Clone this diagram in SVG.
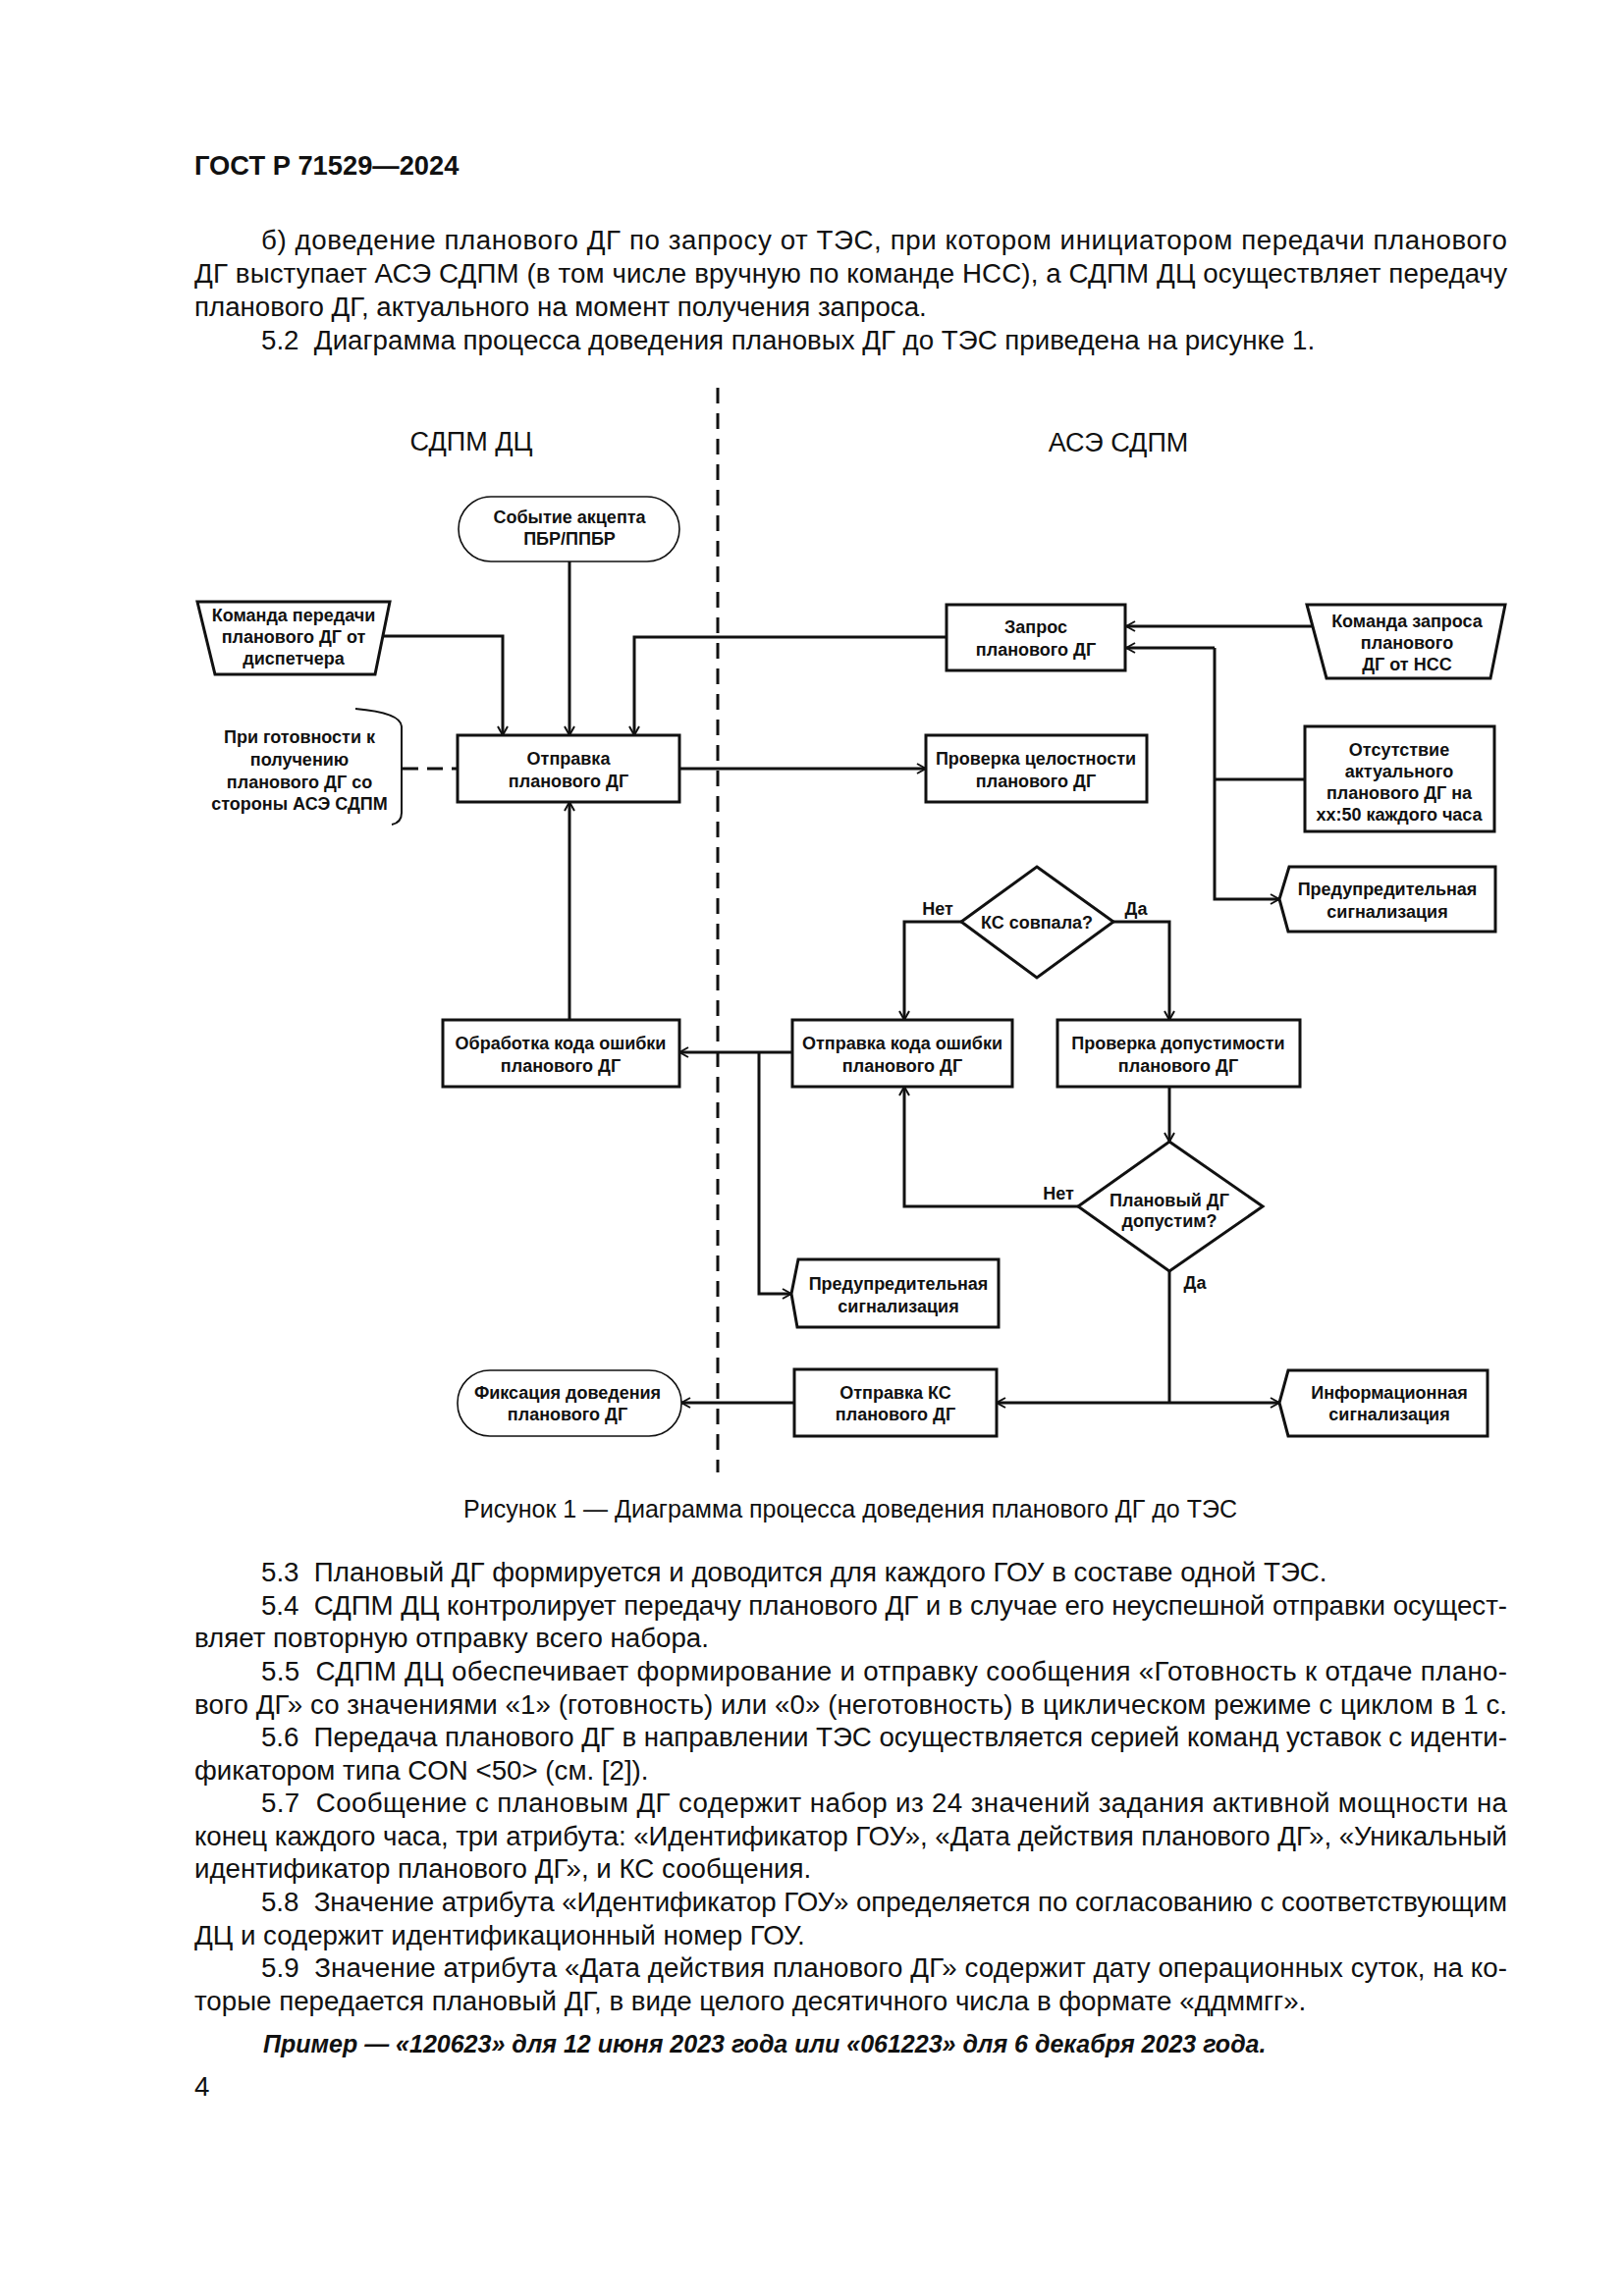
<svg xmlns="http://www.w3.org/2000/svg" width="1654" height="2339" viewBox="0 0 1654 2339">
<style>
.body{font-family:"Liberation Sans",Arial,sans-serif;font-size:27.7px;fill:#111}
.hdr{font-family:"Liberation Sans",Arial,sans-serif;font-size:27.3px;font-weight:bold;fill:#111}
.ex{font-family:"Liberation Sans",Arial,sans-serif;font-size:25px;font-weight:bold;font-style:italic;fill:#111}
.cap{font-family:"Liberation Sans",Arial,sans-serif;font-size:25px;fill:#111}
.ttl{font-family:"Liberation Sans",Arial,sans-serif;font-size:27px;fill:#111}
.lbl{font-family:"Liberation Sans",Arial,sans-serif;font-size:18px;font-weight:bold;fill:#111;text-anchor:middle}
.box{fill:#fff;stroke:#111;stroke-width:3}
.term{fill:#fff;stroke:#111;stroke-width:1.6}
.ln{fill:none;stroke:#111;stroke-width:3}
.dash{fill:none;stroke:#111;stroke-width:3;stroke-dasharray:16 10}
</style>
<defs>
<marker id="arr" viewBox="0 0 12 12" refX="11" refY="6" markerWidth="12" markerHeight="12" markerUnits="userSpaceOnUse" orient="auto">
<path d="M2,1 L11,6 L2,11" fill="none" stroke="#111" stroke-width="2"/>
</marker>
</defs>
<rect width="1654" height="2339" fill="#fff"/>

<g id="page-text">
<text class="hdr" x="198" y="178">ГОСТ Р 71529—2024</text>
<text class="body" x="266" y="254" textLength="1269" lengthAdjust="spacing">б) доведение планового ДГ по запросу от ТЭС, при котором инициатором передачи планового</text>
<text class="body" x="198" y="288" textLength="1337" lengthAdjust="spacing">ДГ выступает АСЭ СДПМ (в том числе вручную по команде НСС), а СДПМ ДЦ осуществляет передачу</text>
<text class="body" x="198" y="322">планового ДГ, актуального на момент получения запроса.</text>
<text class="body" x="266" y="356">5.2&#160; Диаграмма процесса доведения плановых ДГ до ТЭС приведена на рисунке 1.</text>

<text class="cap" x="866" y="1546" text-anchor="middle">Рисунок 1 — Диаграмма процесса доведения планового ДГ до ТЭС</text>

<text class="body" x="266" y="1611">5.3&#160; Плановый ДГ формируется и доводится для каждого ГОУ в составе одной ТЭС.</text>
<text class="body" x="266" y="1645" textLength="1269" lengthAdjust="spacing">5.4&#160; СДПМ ДЦ контролирует передачу планового ДГ и в случае его неуспешной отправки осущест-</text>
<text class="body" x="198" y="1678">вляет повторную отправку всего набора.</text>
<text class="body" x="266" y="1712" textLength="1269" lengthAdjust="spacing">5.5&#160; СДПМ ДЦ обеспечивает формирование и отправку сообщения «Готовность к отдаче плано-</text>
<text class="body" x="198" y="1746" textLength="1337" lengthAdjust="spacing">вого ДГ» со значениями «1» (готовность) или «0» (неготовность) в циклическом режиме с циклом в 1 с.</text>
<text class="body" x="266" y="1779" textLength="1269" lengthAdjust="spacing">5.6&#160; Передача планового ДГ в направлении ТЭС осуществляется серией команд уставок с иденти-</text>
<text class="body" x="198" y="1813">фикатором типа CON &lt;50&gt; (см. [2]).</text>
<text class="body" x="266" y="1846" textLength="1269" lengthAdjust="spacing">5.7&#160; Сообщение с плановым ДГ содержит набор из 24 значений задания активной мощности на</text>
<text class="body" x="198" y="1880" textLength="1337" lengthAdjust="spacing">конец каждого часа, три атрибута: «Идентификатор ГОУ», «Дата действия планового ДГ», «Уникальный</text>
<text class="body" x="198" y="1913">идентификатор планового ДГ», и КС сообщения.</text>
<text class="body" x="266" y="1947" textLength="1269" lengthAdjust="spacing">5.8&#160; Значение атрибута «Идентификатор ГОУ» определяется по согласованию с соответствующим</text>
<text class="body" x="198" y="1981">ДЦ и содержит идентификационный номер ГОУ.</text>
<text class="body" x="266" y="2014" textLength="1269" lengthAdjust="spacing">5.9&#160; Значение атрибута «Дата действия планового ДГ» содержит дату операционных суток, на ко-</text>
<text class="body" x="198" y="2048">торые передается плановый ДГ, в виде целого десятичного числа в формате «ддммгг».</text>
<text class="ex" x="268" y="2091">Пример — «120623» для 12 июня 2023 года или «061223» для 6 декабря 2023 года.</text>
<text class="body" x="198" y="2135">4</text>
</g>

<g id="lanes">
<line class="dash" x1="731" y1="395" x2="731" y2="1500"/>
<text class="ttl" x="480" y="459" text-anchor="middle">СДПМ ДЦ</text>
<text class="ttl" x="1139" y="460" text-anchor="middle">АСЭ СДПМ</text>
</g>

<g id="connectors">
<path class="ln" d="M580,572 V749" marker-end="url(#arr)"/>
<path class="ln" d="M390,648 H512 V749" marker-end="url(#arr)"/>
<path class="ln" d="M964,649 H646 V749" marker-end="url(#arr)"/>
<path class="ln" d="M692,783 H943" marker-end="url(#arr)"/>
<path class="ln" d="M410,783 H466" style="stroke-dasharray:16 9"/>
<path class="ln" d="M1337,638 H1147" marker-end="url(#arr)"/>
<path class="ln" d="M1329,794 H1237"/>
<path class="ln" d="M1237,660 V916 H1303" marker-end="url(#arr)"/>
<path class="ln" d="M1237,660 H1147" marker-end="url(#arr)"/>
<path class="ln" d="M979,939 H921 V1039" marker-end="url(#arr)"/>
<path class="ln" d="M1134,939 H1191 V1039" marker-end="url(#arr)"/>
<path class="ln" d="M807,1072 H692" marker-end="url(#arr)"/>
<path class="ln" d="M773,1072 V1318 H806" marker-end="url(#arr)"/>
<path class="ln" d="M580,1039 V817" marker-end="url(#arr)"/>
<path class="ln" d="M1191,1107 V1163" marker-end="url(#arr)"/>
<path class="ln" d="M1098,1229 H921 V1107" marker-end="url(#arr)"/>
<path class="ln" d="M1191,1295 V1429"/>
<path class="ln" d="M1191,1429 H1015" marker-end="url(#arr)"/>
<path class="ln" d="M1191,1429 H1303" marker-end="url(#arr)"/>
<path class="ln" d="M809,1429 H694" marker-end="url(#arr)"/>
<text class="lbl" x="955" y="932">Нет</text>
<text class="lbl" x="1157" y="932">Да</text>
<text class="lbl" x="1078" y="1222">Нет</text>
<text class="lbl" x="1217" y="1313">Да</text>
</g>

<g id="n-event">
<rect class="term" x="467" y="506" width="225" height="66" rx="33"/>
<text class="lbl" x="580" y="533">Событие акцепта</text>
<text class="lbl" x="580" y="555">ПБР/ППБР</text>
</g>
<g id="n-cmd-disp">
<polygon class="box" points="201,613 397,613 382,687 219,687"/>
<text class="lbl" x="299" y="633">Команда передачи</text>
<text class="lbl" x="299" y="655">планового ДГ от</text>
<text class="lbl" x="299" y="677">диспетчера</text>
</g>
<g id="n-send">
<rect class="box" x="466" y="749" width="226" height="68"/>
<text class="lbl" x="579" y="779">Отправка</text>
<text class="lbl" x="579" y="802">планового ДГ</text>
</g>
<g id="n-note">
<path d="M362,722 Q408,726 409,740 V828 Q409,838 399,840" fill="none" stroke="#111" stroke-width="2"/>
<text class="lbl" x="305" y="757">При готовности к</text>
<text class="lbl" x="305" y="780">получению</text>
<text class="lbl" x="305" y="803">планового ДГ со</text>
<text class="lbl" x="305" y="825">стороны АСЭ СДПМ</text>
</g>
<g id="n-request">
<rect class="box" x="964" y="616" width="182" height="67"/>
<text class="lbl" x="1055" y="645">Запрос</text>
<text class="lbl" x="1055" y="668">планового ДГ</text>
</g>
<g id="n-cmd-nss">
<polygon class="box" points="1331,616 1533,616 1518,691 1351,691"/>
<text class="lbl" x="1433" y="639">Команда запроса</text>
<text class="lbl" x="1433" y="661">планового</text>
<text class="lbl" x="1433" y="683">ДГ от НСС</text>
</g>
<g id="n-integrity">
<rect class="box" x="943" y="749" width="225" height="68"/>
<text class="lbl" x="1055" y="779">Проверка целостности</text>
<text class="lbl" x="1055" y="802">планового ДГ</text>
</g>
<g id="n-absent">
<rect class="box" x="1329" y="740" width="193" height="107"/>
<text class="lbl" x="1425" y="770">Отсутствие</text>
<text class="lbl" x="1425" y="792">актуального</text>
<text class="lbl" x="1425" y="814">планового ДГ на</text>
<text class="lbl" x="1425" y="836">хх:50 каждого часа</text>
</g>
<g id="n-warn1">
<polygon class="box" points="1313,883 1523,883 1523,949 1312,949 1303,916"/>
<text class="lbl" x="1413" y="912">Предупредительная</text>
<text class="lbl" x="1413" y="935">сигнализация</text>
</g>
<g id="n-ks-match">
<polygon class="box" points="1056,883 1134,939 1056,996 979,939"/>
<text class="lbl" x="1056" y="946">КС совпала?</text>
</g>
<g id="n-send-err">
<rect class="box" x="807" y="1039" width="224" height="68"/>
<text class="lbl" x="919" y="1069">Отправка кода ошибки</text>
<text class="lbl" x="919" y="1092">планового ДГ</text>
</g>
<g id="n-valid">
<rect class="box" x="1077" y="1039" width="247" height="68"/>
<text class="lbl" x="1200" y="1069">Проверка допустимости</text>
<text class="lbl" x="1200" y="1092">планового ДГ</text>
</g>
<g id="n-proc-err">
<rect class="box" x="451" y="1039" width="241" height="68"/>
<text class="lbl" x="571" y="1069">Обработка кода ошибки</text>
<text class="lbl" x="571" y="1092">планового ДГ</text>
</g>
<g id="n-valid-q">
<polygon class="box" points="1191,1163 1286,1229 1191,1295 1098,1229"/>
<text class="lbl" x="1191" y="1229">Плановый ДГ</text>
<text class="lbl" x="1191" y="1250">допустим?</text>
</g>
<g id="n-warn2">
<polygon class="box" points="813,1283 1017,1283 1017,1352 812,1352 806,1318"/>
<text class="lbl" x="915" y="1314">Предупредительная</text>
<text class="lbl" x="915" y="1337">сигнализация</text>
</g>
<g id="n-send-ks">
<rect class="box" x="809" y="1395" width="206" height="68"/>
<text class="lbl" x="912" y="1425">Отправка КС</text>
<text class="lbl" x="912" y="1447">планового ДГ</text>
</g>
<g id="n-info">
<polygon class="box" points="1312,1396 1515,1396 1515,1463 1312,1463 1303,1429"/>
<text class="lbl" x="1415" y="1425">Информационная</text>
<text class="lbl" x="1415" y="1447">сигнализация</text>
</g>
<g id="n-fix">
<rect class="term" x="466" y="1396" width="228" height="67" rx="33"/>
<text class="lbl" x="578" y="1425">Фиксация доведения</text>
<text class="lbl" x="578" y="1447">планового ДГ</text>
</g>
</svg>
